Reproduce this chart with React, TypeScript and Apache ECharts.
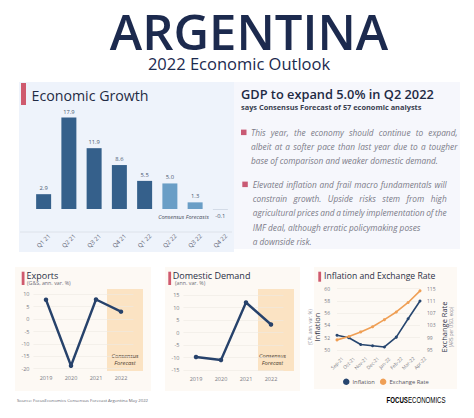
import React, { useEffect, useRef } from "react";
import * as echarts from "echarts";

const FONT = "'Open Sans', 'Noto Sans', sans-serif";

// ---------- data ----------
const growthQuarters = ["Q1 21", "Q2 21", "Q3 21", "Q4 21", "Q1 22", "Q2 22", "Q3 22", "Q4 22"];
const growthValues = [2.9, 17.9, 11.9, 8.6, 5.5, 5.0, 1.3, -0.1];
const growthForecast = [false, false, false, false, false, true, true, true];

const years = ["2019", "2020", "2021", "2022"];
const exportsValues = [7.8, -18.8, 7.9, 3.0];
const domesticDemandValues = [-9.8, -11.0, 12.0, 3.2];

const months = ["Sep-21", "Oct-21", "Nov-21", "Dec-21", "Jan-22", "Feb-22", "Mar-22", "Apr-22"];
const inflationValues = [52.4, 52.0, 50.9, 50.7, 50.5, 52.1, 55.1, 58.0];
const exchangeRateValues = [98.3, 99.4, 100.9, 102.6, 104.9, 107.4, 110.5, 114.3];

const bullet1Lines = [
  "This year, the economy should continue to expand,",
  "albeit at a softer pace than last year due to a tougher",
  "base of comparison and weaker domestic demand.",
];
const bullet2Lines = [
  "Elevated inflation and frail macro fundamentals will",
  "constrain growth. Upside risks stem from high",
  "agricultural prices and a timely implementation of the",
  "IMF deal, although erratic policymaking poses",
  "a downside risk.",
];
const bullet1Justify = [true, true, false];
const bullet2Justify = [true, true, true, false, false];

// ---------- helpers ----------
let measureCtx: CanvasRenderingContext2D | null = null;
function measure(text: string, font: string): number {
  if (!measureCtx) measureCtx = document.createElement("canvas").getContext("2d");
  measureCtx!.font = font;
  return measureCtx!.measureText(text).width;
}

const PARA_SIZE = 8.3;
const PARA_COLOR = "#7b7b88";
function paraLine(text: string, x: number, y: number, width: number, justify: boolean): any[] {
  const base = {
    fontSize: PARA_SIZE,
    fontFamily: FONT,
    fontStyle: "italic",
    fill: PARA_COLOR,
    lineHeight: PARA_SIZE * 1.15,
    textVerticalAlign: "middle",
  };
  if (!justify) return [{ type: "text", x, y, style: { ...base, text } }];
  const font = `italic ${PARA_SIZE}px 'Open Sans'`;
  const words = text.split(" ");
  const ws = words.map((w) => measure(w, font));
  const total = ws.reduce((a, b) => a + b, 0);
  const gap = (width - total) / (words.length - 1);
  const out: any[] = [];
  let cx = x;
  words.forEach((w, i) => {
    out.push({ type: "text", x: cx, y, style: { ...base, text: w } });
    cx += ws[i] + gap;
  });
  return out;
}

function txt(x: number, y: number, text: string, size: number, color: string, extra: any = {}, el: any = {}) {
  return {
    type: "text",
    x,
    y,
    ...el,
    style: {
      text,
      fontSize: size,
      fontFamily: FONT,
      fill: color,
      lineHeight: size * 1.1,
      textVerticalAlign: "middle",
      ...extra,
    },
  };
}

function rect(x: number, y: number, w: number, h: number, fill: string, z = -10) {
  return { type: "rect", z, shape: { x, y, width: w, height: h }, style: { fill } };
}

export default function App() {
  const ref = useRef<HTMLDivElement>(null);

  useEffect(() => {
    if (!ref.current) return;
    const chart = echarts.init(ref.current, undefined, { renderer: "svg" });

    const graphics: any[] = [];
    // panel backgrounds
    graphics.push(rect(19, 82, 215, 170, "#eef3fb"));
    graphics.push(rect(234, 82, 226, 167, "#f6f7fc"));
    graphics.push(rect(15, 267, 136, 124, "#fdf9f4"));
    graphics.push(rect(165, 267, 135, 124, "#fdf9f4"));
    graphics.push(rect(314, 267, 143, 122, "#fdf9f4"));
    // forecast shading
    graphics.push(rect(107, 289, 36, 82, "#fbe3c3", -5));
    graphics.push(rect(258, 289, 36, 82, "#fbe3c3", -5));

    // header
    graphics.push(txt(249, 30.5, "ARGENTINA", 49, "#1c2a4e", { fontWeight: 600, textAlign: "center", lineHeight: 40 }));
    graphics.push(txt(239, 63, "2022 Economic Outlook", 16.5, "#1c2a4e", { textAlign: "center", lineHeight: 15 }));

    // economic growth panel
    graphics.push(rect(21, 83, 5, 22, "#cf5a6e", 1));
    graphics.push(txt(31.5, 95, "Economic Growth", 14.2, "#1f2b44"));
    graphics.push({
      type: "line",
      z: -4,
      shape: { x1: 20, y1: 232, x2: 232, y2: 232 },
      style: { stroke: "#dde2ea", lineWidth: 1 },
    });
    graphics.push(txt(183.5, 217, "Consensus Forecasts", 5.6, "#4a4f60", { fontStyle: "italic", textAlign: "center" }));

    // right text panel
    graphics.push(txt(241, 93.5, "GDP to expand 5.0% in Q2 2022", 12.8, "#1e2a44", { fontWeight: 600 }));
    graphics.push(txt(241, 107.3, "says Consensus Forecast of 57 economic analysts", 7.4, "#3a3f50", { fontWeight: 700 }));
    graphics.push(rect(241, 129.6, 5.5, 5.5, "#c95a74", 1));
    graphics.push(rect(242.3, 181.6, 5.5, 5.5, "#c95a74", 1));
    bullet1Lines.forEach((l, i) => {
      graphics.push(...paraLine(l, 251, 132.4 + i * 14, 206.5, bullet1Justify[i]));
    });
    bullet2Lines.forEach((l, i) => {
      graphics.push(...paraLine(l, 252.7, 184.4 + i * 14.2, 194, bullet2Justify[i]));
    });

    // bottom panels titles
    graphics.push(rect(21.7, 271.7, 2.8, 13.3, "#cf5a6e", 1));
    graphics.push(txt(26.5, 275.2, "Exports", 9, "#2a2f45", { fontWeight: 500, lineHeight: 8 }));
    graphics.push(txt(27, 283.2, "(G&S, ann. var. %)", 5.3, "#6d6d78", { lineHeight: 5 }));
    graphics.push(txt(125, 355.8, "Consensus", 5.8, "#4e3d30", { fontStyle: "italic", textAlign: "center", lineHeight: 6 }));
    graphics.push(txt(125, 362.8, "Forecast", 5.8, "#4e3d30", { fontStyle: "italic", textAlign: "center", lineHeight: 6 }));

    graphics.push(rect(168.3, 271.7, 2.8, 13.3, "#cf5a6e", 1));
    graphics.push(txt(172.7, 275.2, "Domestic Demand", 9, "#2a2f45", { fontWeight: 500, lineHeight: 8 }));
    graphics.push(txt(175, 283.2, "(ann. var. %)", 5.3, "#6d6d78", { lineHeight: 5 }));
    graphics.push(txt(272.5, 355.8, "Consensus", 5.8, "#4e3d30", { fontStyle: "italic", textAlign: "center", lineHeight: 6 }));
    graphics.push(txt(272.5, 362.8, "Forecast", 5.8, "#4e3d30", { fontStyle: "italic", textAlign: "center", lineHeight: 6 }));

    graphics.push(rect(318.3, 271.7, 2.8, 10, "#cf5a6e", 1));
    graphics.push(txt(324, 275.8, "Inflation and Exchange Rate", 8.6, "#2a2f45", { fontWeight: 500 }));
    graphics.push(txt(316.5, 327, "Inflation", 7.5, "#2a2f45", { textAlign: "center", fontWeight: 500, lineHeight: 7 }, { rotation: Math.PI / 2 }));
    graphics.push(txt(310, 327, "(CPI, ann. var. %)", 4.6, "#8a8a94", { textAlign: "center", lineHeight: 4.6 }, { rotation: Math.PI / 2 }));
    graphics.push(txt(444.3, 327, "Exchange Rate", 7.5, "#2a2f45", { textAlign: "center", fontWeight: 500, lineHeight: 7 }, { rotation: Math.PI / 2 }));
    graphics.push(txt(451, 327, "(ARS per USD, eop)", 4.6, "#8a8a94", { textAlign: "center", lineHeight: 4.6 }, { rotation: Math.PI / 2 }));

    // footer
    graphics.push(txt(17, 400, "Source: FocusEconomics Consensus Forecast Argentina May 2022", 4.3, "#666670"));
    graphics.push({
      type: "text",
      x: 386.5,
      y: 399.7,
      scaleX: 0.72,
      style: {
        text: "{a|FOCUS}{b|ECONOMICS}",
        textVerticalAlign: "middle",
        rich: {
          a: { fontSize: 8.5, fontWeight: 700, fontFamily: "'Liberation Sans', Arial, sans-serif", color: "#1b2440" },
          b: { fontSize: 8.5, fontWeight: 400, fontFamily: "'Liberation Sans', Arial, sans-serif", color: "#1b2440" },
        },
      },
    });

    const smallAxisLabel = { fontSize: 5.5, color: "#7a7a84", fontFamily: FONT };
    const splitLine = { show: true, lineStyle: { color: "#eee9e2", width: 0.6 } };

    const option: any = {
      animation: false,
      textStyle: { fontFamily: FONT },
      grid: [
        { left: 31, top: 117, width: 202, height: 115 },
        { left: 33.5, top: 294.3, width: 100, height: 74.4 },
        { left: 183.5, top: 295, width: 100, height: 75 },
        { left: 337, top: 288.7, width: 83, height: 61.3 },
      ],
      xAxis: [
        {
          gridIndex: 0,
          type: "category",
          data: growthQuarters,
          axisLine: { show: false },
          axisTick: { show: false },
          axisLabel: {
            interval: 0,
            rotate: 45,
            align: "center",
            verticalAlign: "middle",
            margin: 9,
            fontSize: 6,
            color: "#5c6272",
          },
        },
        {
          gridIndex: 1,
          type: "category",
          data: years,
          axisLine: { show: false },
          axisTick: { show: false },
          axisLabel: { ...smallAxisLabel, margin: 6 },
        },
        {
          gridIndex: 2,
          type: "category",
          data: years,
          axisLine: { show: false },
          axisTick: { show: false },
          axisLabel: { ...smallAxisLabel, margin: 6 },
        },
        {
          gridIndex: 3,
          type: "category",
          data: months,
          boundaryGap: false,
          axisLine: { show: false },
          axisTick: { show: false },
          axisLabel: {
            interval: 0,
            rotate: 45,
            align: "center",
            verticalAlign: "middle",
            margin: 13,
            fontSize: 4.8,
            color: "#7a7a84",
          },
        },
      ],
      yAxis: [
        { gridIndex: 0, type: "value", min: -4.5, max: 18, show: false },
        {
          gridIndex: 1,
          type: "value",
          min: -20,
          max: 10,
          interval: 5,
          axisLabel: { ...smallAxisLabel, margin: 4 },
          splitLine,
        },
        {
          gridIndex: 2,
          type: "value",
          min: -15,
          max: 15,
          interval: 5,
          axisLabel: { ...smallAxisLabel, margin: 4 },
          splitLine,
        },
        {
          gridIndex: 3,
          type: "value",
          min: 50,
          max: 60,
          interval: 2,
          axisLabel: { ...smallAxisLabel, fontSize: 5, margin: 7 },
          splitLine,
        },
        {
          gridIndex: 3,
          type: "value",
          position: "right",
          min: 95,
          max: 115,
          interval: 4,
          axisLabel: { ...smallAxisLabel, fontSize: 5, margin: 7 },
          splitLine: { show: false },
        },
      ],
      legend: {
        left: 338,
        top: 373.5,
        itemWidth: 6.5,
        itemHeight: 6.5,
        itemGap: 5,
        icon: "circle",
        data: ["Inflation", "Exchange Rate"],
        textStyle: { fontSize: 5.8, color: "#555560", padding: [0, 0, 0, -2] },
      },
      series: [
        {
          name: "GDP",
          type: "bar",
          xAxisIndex: 0,
          yAxisIndex: 0,
          barWidth: 15,
          data: growthValues.map((v, i) => ({
            value: v,
            itemStyle: {
              color: growthForecast[i] ? (v < 0 ? "#b9c5d4" : "#6a9ec6") : "#35608b",
            },
            label: { position: v < 0 ? "bottom" : "top" },
          })),
          label: {
            show: true,
            fontSize: 5.8,
            color: "#4a5870",
            distance: 3,
            formatter: (p: any) => Number(p.value).toFixed(1),
          },
        },
        {
          name: "Exports",
          type: "line",
          xAxisIndex: 1,
          yAxisIndex: 1,
          data: exportsValues,
          symbol: "circle",
          symbolSize: 4.5,
          itemStyle: { color: "#27426b" },
          lineStyle: { color: "#27426b", width: 2.4 },
        },
        {
          name: "Domestic Demand",
          type: "line",
          xAxisIndex: 2,
          yAxisIndex: 2,
          data: domesticDemandValues,
          symbol: "circle",
          symbolSize: 4.5,
          itemStyle: { color: "#27426b" },
          lineStyle: { color: "#27426b", width: 2.4 },
        },
        {
          name: "Inflation",
          type: "line",
          xAxisIndex: 3,
          yAxisIndex: 3,
          data: inflationValues,
          symbol: "circle",
          symbolSize: 3,
          itemStyle: { color: "#27466f" },
          lineStyle: { color: "#27466f", width: 1.6 },
        },
        {
          name: "Exchange Rate",
          type: "line",
          xAxisIndex: 3,
          yAxisIndex: 4,
          data: exchangeRateValues,
          symbol: "circle",
          symbolSize: 3,
          itemStyle: { color: "#ef9f55" },
          lineStyle: { color: "#ef9f55", width: 1.6 },
        },
      ],
      graphic: { elements: graphics },
    };

    chart.setOption(option);
    return () => chart.dispose();
  }, []);

  return (
    <div
      ref={ref}
      style={{ position: "absolute", left: 0, top: 0, width: 474, height: 418, background: "#ffffff" }}
    />
  );
}
